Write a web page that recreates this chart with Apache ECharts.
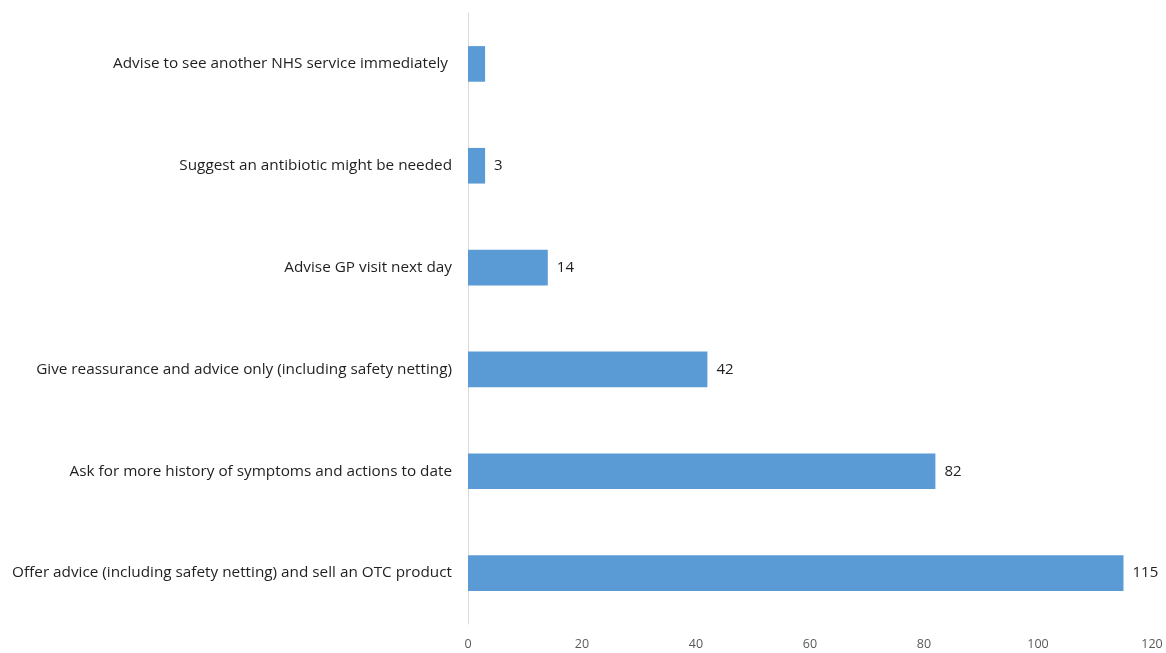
<!DOCTYPE html>
<html>
<head>
<meta charset="utf-8">
<style>
  html, body { margin: 0; padding: 0; background: #ffffff; }
  #chart { width: 1166px; height: 653px; }
</style>
<script src="https://cdn.jsdelivr.net/npm/echarts@6/dist/echarts.min.js"></script>
</head>
<body>
<div id="chart"></div>
<script>
// Pharmacy responses, listed top to bottom
const categories = [
  'Advise to see another NHS service immediately ',
  'Suggest an antibiotic might be needed',
  'Advise GP visit next day',
  'Give reassurance and advice only (including safety netting)',
  'Ask for more history of symptoms and actions to date',
  'Offer advice (including safety netting) and sell an OTC product'
];
const counts = [3, 3, 14, 42, 82, 115];
// The top bar carries no value label
const showLabel = [false, true, true, true, true, true];
const xTicks = [0, 20, 40, 60, 80, 100, 120];

const chart = echarts.init(document.getElementById('chart'));
const fontFamily = '"Open Sans", "Liberation Sans", Arial, sans-serif';

chart.setOption({
  animation: false,
  grid: { left: 468, right: 14, top: 13, bottom: 29, containLabel: false },
  xAxis: {
    type: 'value',
    min: xTicks[0],
    max: xTicks[xTicks.length - 1],
    interval: xTicks[1] - xTicks[0],
    axisLine: { show: false },
    axisTick: { show: false },
    splitLine: { show: false },
    axisLabel: { color: '#595959', fontSize: 12.5, fontFamily, margin: 14 }
  },
  yAxis: {
    type: 'category',
    inverse: true,
    data: categories,
    axisLine: { show: true, lineStyle: { color: '#D9D9D9', width: 1 } },
    axisTick: { show: false },
    axisLabel: { color: '#1f1f1f', fontSize: 15.3, fontFamily, margin: 16 }
  },
  series: [{
    type: 'bar',
    barWidth: '35%',
    itemStyle: { color: '#5B9BD5' },
    label: {
      position: 'right',
      distance: 9,
      color: '#1f1f1f',
      fontSize: 15,
      fontFamily
    },
    data: counts.map((v, i) => ({ value: v, label: { show: showLabel[i] } }))
  }]
});
</script>
</body>
</html>
